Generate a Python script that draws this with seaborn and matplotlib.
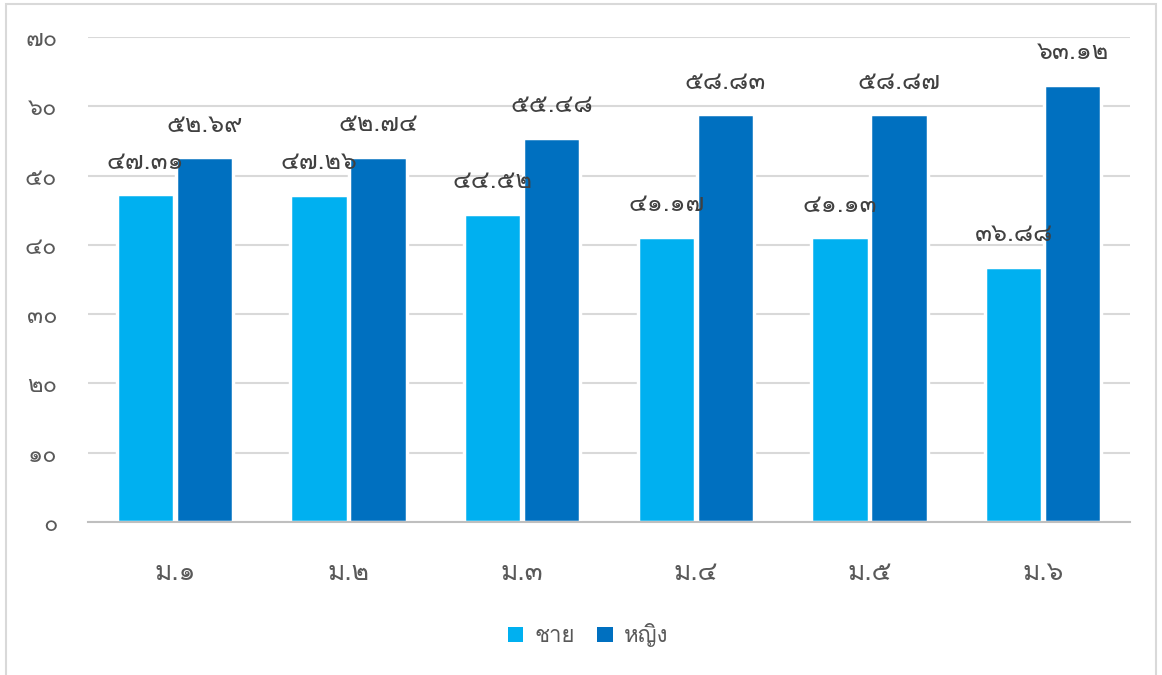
import matplotlib
matplotlib.use('Agg')
import matplotlib.pyplot as plt
import matplotlib.font_manager as fm
from matplotlib.ft2font import FT2Font
from matplotlib.patches import Rectangle
import seaborn as sns
import pandas as pd

# data
grades = ['ม.๑', 'ม.๒', 'ม.๓', 'ม.๔', 'ม.๕', 'ม.๖']
male = [47.31, 47.26, 44.52, 41.17, 41.13, 36.88]
female = [52.69, 52.74, 55.48, 58.83, 58.87, 63.12]
series = ['ชาย', 'หญิง']
colors = ['#00B0F0', '#0070C0']

THAI_DIGITS = str.maketrans('0123456789', '๐๑๒๓๔๕๖๗๘๙')


def thai_num(s):
    return str(s).translate(THAI_DIGITS)


def find_thai_font():
    # first installed family that actually has Thai glyphs
    for f in fm.fontManager.ttflist:
        try:
            if 0x0E01 in FT2Font(f.fname).get_charmap():
                return f.name
        except Exception:
            pass
    return 'DejaVu Sans'


sns.set_theme(style='white')
thai = find_thai_font()
plt.rcParams['font.family'] = [thai, 'DejaVu Sans']

df = pd.DataFrame({
    'grade': grades * 2,
    'value': male + female,
    'sex': [series[0]] * len(grades) + [series[1]] * len(grades),
})

fig = plt.figure(figsize=(11.62, 6.75), dpi=100)
ax = fig.add_axes([0.0757, 0.2267, 0.8968, 0.7183])

# white bar outlines, like the office chart (they also cut the gridlines)
sns.barplot(data=df, x='grade', y='value', hue='sex', palette=colors, saturation=1,
            width=0.68, gap=0.03, ax=ax, zorder=3, edgecolor='white', linewidth=2.5)

ax.set_ylim(0, 70)
ax.set_xlim(-0.5, len(grades) - 0.5)
ax.set_yticks(range(0, 71, 10))
ax.set_yticklabels([thai_num(v) for v in range(0, 71, 10)])
ax.yaxis.grid(True, color='#d9d9d9', linewidth=1.5, zorder=0)
ax.set_xlabel('')
ax.set_ylabel('')
for s in ['top', 'right', 'left']:
    ax.spines[s].set_visible(False)
ax.spines['bottom'].set_color('#bfbfbf')
ax.spines['bottom'].set_linewidth(1.5)
ax.spines['bottom'].set_zorder(4)

ax.tick_params(axis='y', length=0, pad=22, labelsize=17, labelcolor='#595959')
ax.tick_params(axis='x', which='major', length=0, pad=28, labelsize=19, labelcolor='#595959')
ax.set_xticks([i - 0.5 for i in range(len(grades) + 1)], minor=True)
ax.tick_params(axis='x', which='minor', length=8, width=1.5, color='#bfbfbf', direction='out')

# data labels
for cont in ax.containers:
    for bar in cont:
        h = bar.get_height()
        ax.annotate(thai_num(f'{h:.2f}'), (bar.get_x() + bar.get_width() / 2, h),
                    xytext=(0, 23), textcoords='offset points', ha='center', va='center',
                    fontsize=18, color='#404040', zorder=5)

sns.move_legend(ax, 'center', bbox_to_anchor=(0.506, 0.059), bbox_transform=fig.transFigure,
                ncol=2, frameon=False, title=None, fontsize=16, handlelength=0.7,
                handleheight=0.7, columnspacing=1.0, handletextpad=0.5)
for t in ax.get_legend().get_texts():
    t.set_color('#595959')
for p in ax.get_legend().get_patches():
    p.set_linewidth(0)

# outer chart border
fig.patches.append(Rectangle((6 / 1162, -0.02), 1150 / 1162, 1.02 - 4 / 675,
                             transform=fig.transFigure, fill=False,
                             edgecolor='#d9d9d9', linewidth=1.5))

fig.savefig('out.png', dpi=100)
